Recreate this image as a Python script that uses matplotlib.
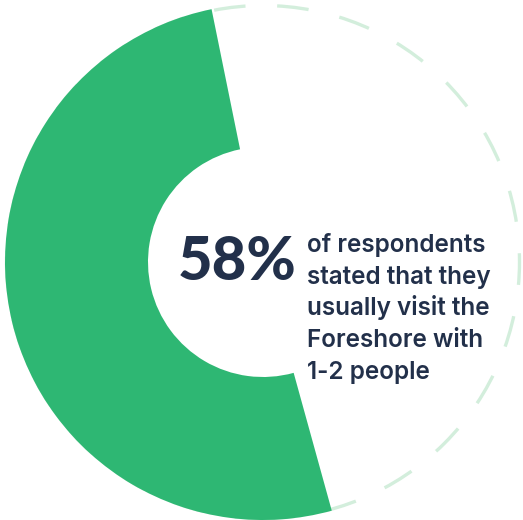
import matplotlib
matplotlib.use("Agg")
import matplotlib.pyplot as plt
from matplotlib.patches import Circle

# share of the ring drawn in green (as it appears in the picture) and the rest
shares = [51.1, 48.9]
headline = "58%"
body_lines = ["of respondents", "stated that they", "usually visit the",
              "Foreshore with", "1-2 people"]

green = "#2eb773"
dash_col = "#d3eedc"
navy = "#22304a"

fig = plt.figure(figsize=(5.23, 5.20), dpi=100)
ax = fig.add_axes([0, 0, 1, 1])

cx, cy = 263, 258
r_out, r_in = 258, 115

# dashed outline ring
ring = Circle((cx, cy), r_out - 1.5, fill=False, ec=dash_col, lw=2.4,
              linestyle=(0, (9.5, 9.5)), zorder=1)
ax.add_patch(ring)

ax.pie(shares, colors=[green, "none"], startangle=101.5, counterclock=True,
       center=(cx, cy), radius=r_out,
       wedgeprops=dict(width=r_out - r_in, linewidth=0, zorder=2))

ax.set_xlim(0, 523)
ax.set_ylim(0, 520)
ax.set_aspect("equal")
ax.axis("off")

ax.text(296, 520 - 280, headline, ha="right", va="baseline", fontsize=43,
        fontweight=900, family="Lato", color=navy, zorder=3)

for i, line in enumerate(body_lines):
    ax.text(307, 520 - (252 + i * 31.7), line, ha="left", va="baseline",
            fontsize=17.5, fontweight="semibold", family="Inter", color=navy, zorder=3)

fig.savefig("out.png", dpi=100)
